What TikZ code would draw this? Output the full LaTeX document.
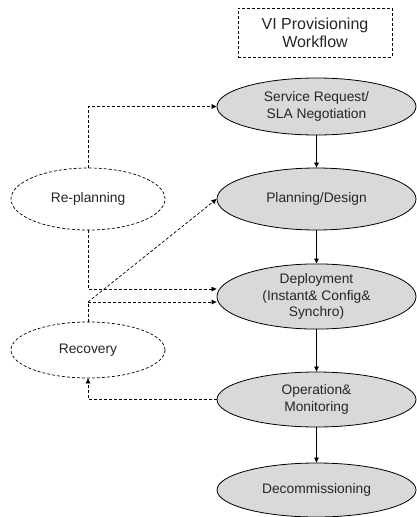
\documentclass[tikz,border=0pt]{standalone}
\usepackage{fontspec}
\setmainfont{Liberation Sans}
\usetikzlibrary{shapes.geometric,arrows.meta}
\begin{document}
\begin{tikzpicture}[x=1pt,y=-1pt,
  every node/.style={font=\fontsize{13.8}{16.6}\selectfont, align=center, text=black!85},
  mainell/.style={ellipse, draw=black, line width=0.8pt, fill=black!15, inner sep=0pt, minimum width=199pt},
  sideell/.style={ellipse, draw=black, dashed, dash pattern=on 3pt off 2pt, line width=0.7pt, fill=white, inner sep=0pt, minimum width=154pt},
  tip/.style={-{Triangle[length=5pt,width=4.5pt]}},
  solidarrow/.style={tip, draw=black, line width=0.7pt},
  dasharrow/.style={tip, draw=black, line width=0.7pt, dash pattern=on 3pt off 2pt},
  dashline/.style={draw=black, line width=0.7pt, dash pattern=on 3pt off 2pt}
]
\useasboundingbox (0,0) rectangle (416,517);
\node[draw=black, dash pattern=on 3pt off 2pt, line width=0.7pt, minimum width=154pt, minimum height=49pt, inner sep=0pt,
  font=\fontsize{16}{18}\selectfont] (title) at (315,32.5) {VI Provisioning\\Workflow};
\node[mainell, minimum height=57pt] (sr) at (316.5,106.5) {Service Request/\\SLA Negotiation};
\node[mainell, minimum height=62pt] (pd) at (316.5,199) {Planning/Design};
\node[mainell, minimum height=65pt] (dep) at (316.5,296.5) {Deployment\\(Instant\& Config\&\\Synchro)};
\node[mainell, minimum height=55pt] (op) at (316.5,399.5) {Operation\&\\Monitoring};
\node[mainell, minimum height=54pt] (dc) at (316.5,490) {Decommissioning};
\node[sideell, minimum height=62pt] (rp) at (88,199) {Re-planning};
\node[sideell, minimum height=56pt] (rec) at (88,350) {Recovery};
\coordinate (j) at (88,302);
\draw[solidarrow] (sr) -- (pd);
\draw[solidarrow] (pd) -- (dep);
\draw[solidarrow] (dep) -- (op);
\draw[solidarrow] (op) -- (dc);
\draw[dasharrow] (rp.north) |- (sr.west);
\draw[dasharrow] (rp.south) |- ([yshift=7.5pt]dep.west);
\draw[dashline] (rec.north) -- (j);
\draw[dasharrow] (j) -- ([yshift=-5.5pt]dep.west);
\draw[dasharrow] (j) -- (pd.west);
\draw[dasharrow] (op.west) -| (rec.south);
\end{tikzpicture}
\end{document}
